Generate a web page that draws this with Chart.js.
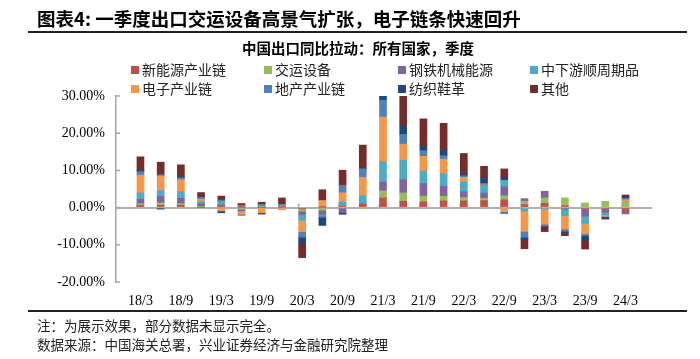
<!DOCTYPE html>
<html>
<head>
<meta charset="utf-8">
<script src="https://cdn.jsdelivr.net/npm/chart.js@4.4.1/dist/chart.umd.min.js"></script>
<style>
    body { margin: 0; background: #fff; }
    #wrap { position: relative; width: 700px; height: 359px; overflow: hidden; font-family: "Noto Sans CJK SC", sans-serif; }
    #chart { position: absolute; left: 0; top: 0; }
    .title { position: absolute; left: 37px; top: 5px; font-size: 18.5px; font-weight: bold; color: #000; white-space: nowrap; }
    .rule { position: absolute; left: 28px; width: 659px; height: 2px; background: #222; }
    .subtitle { position: absolute; left: 0; width: 716px; top: 37px; text-align: center; font-size: 14.5px; font-weight: bold; color: #000; }
    .legend-item { position: absolute; font-size: 14px; line-height: 18px; color: #222; white-space: nowrap; }
    .legend-item i { display: inline-block; width: 8px; height: 8px; margin-right: 3px; vertical-align: 1px; }
    .note { position: absolute; left: 37px; font-size: 13.5px; color: #222; white-space: nowrap; }
</style>
</head>
<body>
<div id="wrap">
    <canvas id="chart" width="700" height="359"></canvas>
    <div class="title">图表4:&nbsp;一季度出口交运设备高景气扩张，电子链条快速回升</div>
    <div class="rule" style="top:31px"></div>
    <div class="subtitle">中国出口同比拉动：所有国家，季度</div>
    <div id="legend"></div>
    <div class="rule" style="top:310px"></div>
    <div class="note" style="top:315px">注：为展示效果，部分数据未显示完全。</div>
    <div class="note" style="top:334px">数据来源：中国海关总署，兴业证券经济与金融研究院整理</div>
</div>
<script>
// quarters 18/3 .. 24/3
const quarters = ['18/3', '18/6', '18/9', '18/12', '19/3', '19/6', '19/9', '19/12', '20/3', '20/6', '20/9', '20/12',
    '21/3', '21/6', '21/9', '21/12', '22/3', '22/6', '22/9', '22/12', '23/3', '23/6', '23/9', '23/12', '24/3'];
const tickLabels = ['18/3', '18/9', '19/3', '19/9', '20/3', '20/9', '21/3', '21/9', '22/3', '22/9', '23/3', '23/9', '24/3'];

const seriesNames = ['新能源产业链', '交运设备', '钢铁机械能源', '中下游顺周期品', '电子产业链', '地产产业链', '纺织鞋革', '其他'];
const seriesColors = ['#C0504D', '#9BBB59', '#8064A2', '#4BACC6', '#F79646', '#4F81BD', '#1F497D', '#772C2A'];

// contribution, percentage points
const newEnergy = [0.6, 0.6, 0.6, 0, 0.2, 0.1, 0, 0.1, -0.35, 0.1, 0.45, 0.9, 2.6, 1.7, 1.55, 1.8, 1.8, 1.9, 2.1, 0.8, 1.2, 0.5, -0.5, -0.55, -1.0];
const transport = [0.45, 0.7, 0.45, 0.1, 0.1, -0.45, 0.05, 0.2, -0.6, -0.7, 0.15, -0.3, 1.9, 2.25, 1.55, 1.25, 0.9, 0.6, 1.1, 0.9, 1.4, 2.1, 1.25, 1.7, 1.5];
const steelMach = [1.2, 1.7, 1.45, 0.9, 0.4, -0.45, 0.05, 0.1, -0.9, -1.1, -1.3, 0.05, 2.35, 3.6, 3.4, 2.7, 1.55, 1.4, 2.4, 0.7, 1.8, -0.45, -1.8, -0.7, -0.7];
const cyclical = [1.7, 1.6, 1.8, 0.7, 0.9, 0.45, 0.3, 0.3, -1.6, -0.3, 0.9, 2.25, 5.5, 5.2, 3.35, 3.4, 2.7, 2.1, 1.7, -0.9, -0.45, -1.7, -1.95, -0.7, 0.1];
const electronics = [4.8, 3.9, 3.2, 0.55, -0.9, -0.9, -1.4, -0.6, -3.0, 1.8, 2.5, 4.95, 12.0, 4.3, 3.9, 3.9, 1.15, 0.1, -1.1, -5.5, -4.0, -3.6, -2.8, -0.4, 0.5];
const property = [0.9, 0.3, 0.5, 0.5, 0.4, -0.3, 0.5, 0.15, -1.5, -0.5, 2.0, 2.25, 4.5, 2.6, 1.55, 0.9, 0.45, 0.4, -0.55, -1.55, -0.5, -0.6, -0.45, -0.1, 0.35];
const textiles = [0.4, -0.4, 0.35, 0.1, -0.5, 0, -0.35, 0.05, -1.6, -2.2, -0.5, 0.1, 1.5, 2.5, 1.35, 1.7, 0.6, 1.6, 0.9, -0.6, -0.1, -0.3, -1.2, -0.5, 0.4];
const others = [3.6, 3.4, 3.15, 1.2, 1.1, 0.55, 0.55, 1.7, -3.9, 2.9, 4.05, 6.3, 2.0, 7.9, 7.2, 7.0, 5.4, 3.0, 2.2, -2.5, -1.4, -0.9, -2.45, -0.15, 0.55];

const seriesValues = [newEnergy, transport, steelMach, cyclical, electronics, property, textiles, others];

// legend, 2 rows x 4 columns
const legendCols = [131, 264, 398, 530];
const legendRows = [60, 79];
let legendHTML = '';
seriesNames.forEach((name, i) => {
    let left = legendCols[i % 4], top = legendRows[Math.floor(i / 4)];
    legendHTML += `<div class="legend-item" style="left:${left}px;top:${top}px"><i style="background:${seriesColors[i]}"></i>${name}</div>`;
});
document.getElementById('legend').innerHTML = legendHTML;

// zero-line tick marks and inward y ticks
const axisMarks = {
    id: 'axisMarks',
    beforeDatasetsDraw(chart) {
        const xs = chart.scales.x, ys = chart.scales.y, c = chart.ctx;
        const y0 = ys.getPixelForValue(0);
        c.save();
        c.strokeStyle = '#a6a6a6';
        c.lineWidth = 1.5;
        xs.ticks.forEach(t => {
            let px = xs.getPixelForValue(t.value) - 3.5;
            c.beginPath(); c.moveTo(px, y0); c.lineTo(px, y0 - 4); c.stroke();
        });
        ys.ticks.forEach(t => {
            let py = ys.getPixelForValue(t.value);
            c.beginPath(); c.moveTo(ys.right, py); c.lineTo(ys.right + 4, py); c.stroke();
        });
        c.restore();
    }
};

const datasets = seriesNames.map((name, i) => ({
    label: name,
    data: seriesValues[i].map((v, j) => ({ x: j, y: v })),
    backgroundColor: seriesColors[i],
    borderWidth: 0,
    barThickness: 7
}));

new Chart(document.getElementById('chart'), {
    type: 'bar',
    data: { datasets: datasets },
    options: {
        responsive: false,
        animation: false,
        events: [],
        layout: { padding: { top: 96, right: 48, left: 0, bottom: 0 } },
        plugins: { legend: { display: false }, tooltip: { enabled: false } },
        scales: {
            x: {
                type: 'linear',
                stacked: true,
                min: -0.19,
                max: 24.29,
                grid: { display: false },
                border: { display: false },
                afterBuildTicks: (scale) => {
                    scale.ticks = tickLabels.map(l => ({ value: quarters.indexOf(l) }));
                },
                afterFit: (scale) => { scale.height = 77; },
                ticks: {
                    autoSkip: false,
                    maxRotation: 0,
                    padding: 3,
                    color: '#000',
                    font: { family: 'Liberation Serif', size: 14 },
                    callback: (v) => quarters[v]
                }
            },
            y: {
                stacked: true,
                min: -20,
                max: 30,
                afterFit: (scale) => { scale.width = 116; },
                grid: {
                    drawTicks: false,
                    lineWidth: 2,
                    color: (ctx) => ctx.tick && ctx.tick.value === 0 ? '#b0b0b0' : 'rgba(0,0,0,0)'
                },
                border: { display: true, color: '#a6a6a6', width: 1.5 },
                ticks: {
                    stepSize: 10,
                    padding: 11,
                    color: '#000',
                    font: { family: 'Liberation Serif', size: 14 },
                    callback: (v) => v.toFixed(2) + '%'
                }
            }
        }
    },
    plugins: [axisMarks]
});
</script>
</body>
</html>
